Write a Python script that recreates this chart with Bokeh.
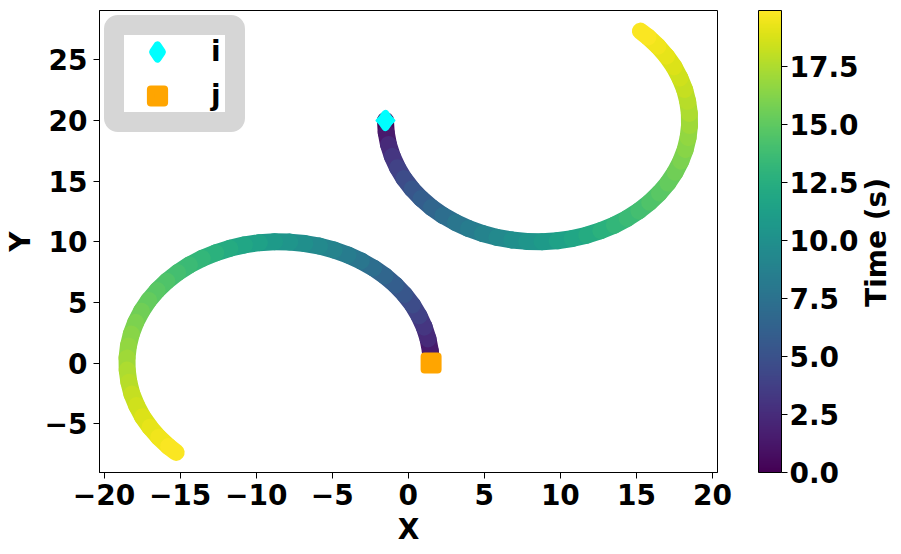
import numpy as np
from bokeh.plotting import figure
from bokeh.layouts import row
from bokeh.models import (ColumnDataSource, LinearColorMapper, ColorBar, FixedTicker,
                          Legend, LegendItem, Label, PrintfTickFormatter, Range1d)
from bokeh.palettes import Viridis256
from bokeh.embed import file_html
from bokeh.resources import INLINE

# ---------------- data ----------------
# time stamps of the sampled positions (colour of the track)
time_s = [0.0, 1.01, 1.92, 2.77, 3.55, 4.29, 4.99, 5.65, 6.29, 6.90, 7.49, 8.06, 8.60,
          9.14, 9.65, 10.15, 10.64, 11.12, 11.59, 12.04, 12.49, 12.93, 13.36, 13.78,
          14.19, 14.60, 14.99, 15.39, 15.77, 16.15, 16.53, 16.89, 17.26, 17.62, 17.97,
          18.32, 18.66, 19.00, 19.34, 19.67, 19.90]

x_i = [-1.5, -1.45, -1.3, -1.05, -0.71, -0.28, 0.25, 0.85, 1.53, 2.28, 3.1, 3.96, 4.88,
       5.83, 6.8, 7.79, 8.79, 9.79, 10.77, 11.73, 12.66, 13.55, 14.39, 15.16, 15.87,
       16.51, 17.07, 17.54, 17.92, 18.21, 18.4, 18.49, 18.48, 18.37, 18.17, 17.86,
       17.47, 16.98, 16.41, 15.76, 15.26]
y_i = [20.0, 19.0, 18.01, 17.04, 16.11, 15.21, 14.35, 13.56, 12.83, 12.17, 11.59, 11.09,
       10.68, 10.36, 10.15, 10.03, 10.0, 10.08, 10.26, 10.54, 10.91, 11.37, 11.92, 12.54,
       13.25, 14.02, 14.84, 15.73, 16.65, 17.61, 18.59, 19.58, 20.58, 21.58, 22.56,
       23.51, 24.43, 25.3, 26.12, 26.88, 27.37]

x_j = [1.5, 1.45, 1.3, 1.05, 0.71, 0.28, -0.25, -0.85, -1.53, -2.28, -3.1, -3.96, -4.88,
       -5.83, -6.8, -7.79, -8.79, -9.79, -10.77, -11.73, -12.66, -13.55, -14.39, -15.16,
       -15.87, -16.51, -17.07, -17.54, -17.92, -18.21, -18.4, -18.49, -18.48, -18.37,
       -18.17, -17.86, -17.47, -16.98, -16.41, -15.76, -15.26]
y_j = [0.0, 1.0, 1.99, 2.96, 3.89, 4.79, 5.65, 6.44, 7.17, 7.83, 8.41, 8.91, 9.32, 9.64,
       9.85, 9.97, 10.0, 9.92, 9.74, 9.46, 9.09, 8.63, 8.08, 7.46, 6.75, 5.98, 5.16, 4.27,
       3.35, 2.39, 1.41, 0.42, -0.58, -1.58, -2.56, -3.51, -4.43, -5.3, -6.12, -6.88, -7.37]

x_ticks = [-20, -15, -10, -5, 0, 5, 10, 15, 20]
y_ticks = [-5, 0, 5, 10, 15, 20, 25]
cbar_ticks = [0.0, 2.5, 5.0, 7.5, 10.0, 12.5, 15.0, 17.5]
legend_labels = ["i", "j"]
time_max = 19.9
cbar_title = "Time (s)"

FONT = "DejaVu Sans"
FS = "28px"

p = figure(width=858, height=554,
           x_range=Range1d(-20.3, 20.33), y_range=Range1d(-9.03, 29.07),
           output_backend="svg", toolbar_location=None,
           min_border_left=98, min_border_right=141, min_border_top=10,
           min_border_bottom=82)
p.xgrid.visible = False
p.ygrid.visible = False
p.outline_line_color = "black"
p.outline_line_alpha = 1.0
p.outline_line_width = 1
p.background_fill_color = "white"

mapper = LinearColorMapper(palette=Viridis256, low=0, high=time_max)

for xs, ys in ((x_i, y_i), (x_j, y_j)):
    t0 = np.array(time_s[:-1])
    t1 = np.array(time_s[1:])
    src = ColumnDataSource(dict(x0=xs[:-1], y0=ys[:-1], x1=xs[1:], y1=ys[1:],
                                t=(t0 + t1) / 2))
    p.segment("x0", "y0", "x1", "y1", source=src, line_width=17, line_cap="round",
              line_color={"field": "t", "transform": mapper})

CYAN = "#00ffff"
ORANGE = "#ffa500"
# legend glyph for "i" (legend glyphs are drawn unrotated); hidden under the real marker
ri_leg = p.scatter([x_i[0]], [y_i[0]], marker="diamond", size=13,
                   fill_color=CYAN, line_color=CYAN, line_width=8, line_join="round")
ri = p.scatter([x_i[0]], [y_i[0]], marker="square", angle=np.pi / 4, size=12,
               fill_color=CYAN, line_color=CYAN, line_width=3, line_join="round")
rj = p.scatter([x_j[0]], [y_j[0]], marker="square", size=13,
               fill_color=ORANGE, line_color=ORANGE, line_width=8, line_join="round")

legend = Legend(items=[LegendItem(label=legend_labels[0], renderers=[ri_leg]),
                       LegendItem(label=legend_labels[1], renderers=[rj])],
                location="top_left", margin=5, padding=0, spacing=11,
                glyph_width=66, glyph_height=33, label_standoff=21,
                label_width=14, label_height=33,
                label_text_font=FONT, label_text_font_size=FS,
                label_text_font_style="bold", label_text_color="black",
                border_line_color="#d6d6d6", border_line_width=20,
                border_line_alpha=1.0, border_line_join="round",
                background_fill_color="white", background_fill_alpha=1.0)
if "border_radius" in Legend.properties():
    legend.border_radius = 14
p.add_layout(legend)

for ax in (p.xaxis[0], p.yaxis[0]):
    ax.major_label_text_font = FONT
    ax.major_label_text_font_size = FS
    ax.major_label_text_font_style = "bold"
    ax.major_label_text_color = "black"
    ax.axis_label_text_font = FONT
    ax.axis_label_text_font_size = FS
    ax.axis_label_text_font_style = "bold"
    ax.axis_label_text_color = "black"
    ax.major_tick_out = 6
    ax.major_tick_in = 0
    ax.minor_tick_out = 0
    ax.minor_tick_in = 0
    ax.axis_line_color = "black"
    ax.major_tick_line_color = "black"
    ax.axis_label_standoff = 5
p.xaxis.major_label_standoff = 5
p.yaxis.major_label_standoff = 6

p.xaxis.ticker = FixedTicker(ticks=x_ticks)
p.yaxis.ticker = FixedTicker(ticks=y_ticks)
p.xaxis.major_label_overrides = {t: str(t).replace("-", "\u2212") for t in x_ticks}
p.yaxis.major_label_overrides = {t: str(t).replace("-", "\u2212") for t in y_ticks}
p.xaxis.axis_label = "X"
p.yaxis.axis_label = "Y"

cb = ColorBar(color_mapper=mapper, location=(659, 0), width=23, height=462,
              margin=0, padding=0,
              ticker=FixedTicker(ticks=cbar_ticks),
              formatter=PrintfTickFormatter(format="%.1f"),
              major_label_text_font=FONT, major_label_text_font_size=FS,
              major_label_text_font_style="bold", major_label_text_color="black",
              major_tick_in=0, major_tick_out=6, major_tick_line_color="black",
              minor_tick_line_color=None, bar_line_color="black", label_standoff=2,
              background_fill_alpha=0.0)
p.add_layout(cb)

# narrow side figure carrying the colour-bar title (rotated, reading upwards)
p2 = figure(width=43, height=554, output_backend="svg", toolbar_location=None,
            x_axis_location=None, y_axis_location=None, min_border=0,
            x_range=Range1d(0, 1), y_range=Range1d(0, 1))
p2.xgrid.visible = False
p2.ygrid.visible = False
p2.outline_line_color = None
p2.add_layout(Label(x=18, y=230, x_units="screen", y_units="screen", text=cbar_title,
                    angle=np.pi / 2, angle_units="rad", text_align="center",
                    text_baseline="middle", text_font=FONT, text_font_size=FS,
                    text_font_style="bold", text_color="black"))

layout = row(p, p2, spacing=0)
open("out.html", "w").write(file_html(layout, INLINE))
